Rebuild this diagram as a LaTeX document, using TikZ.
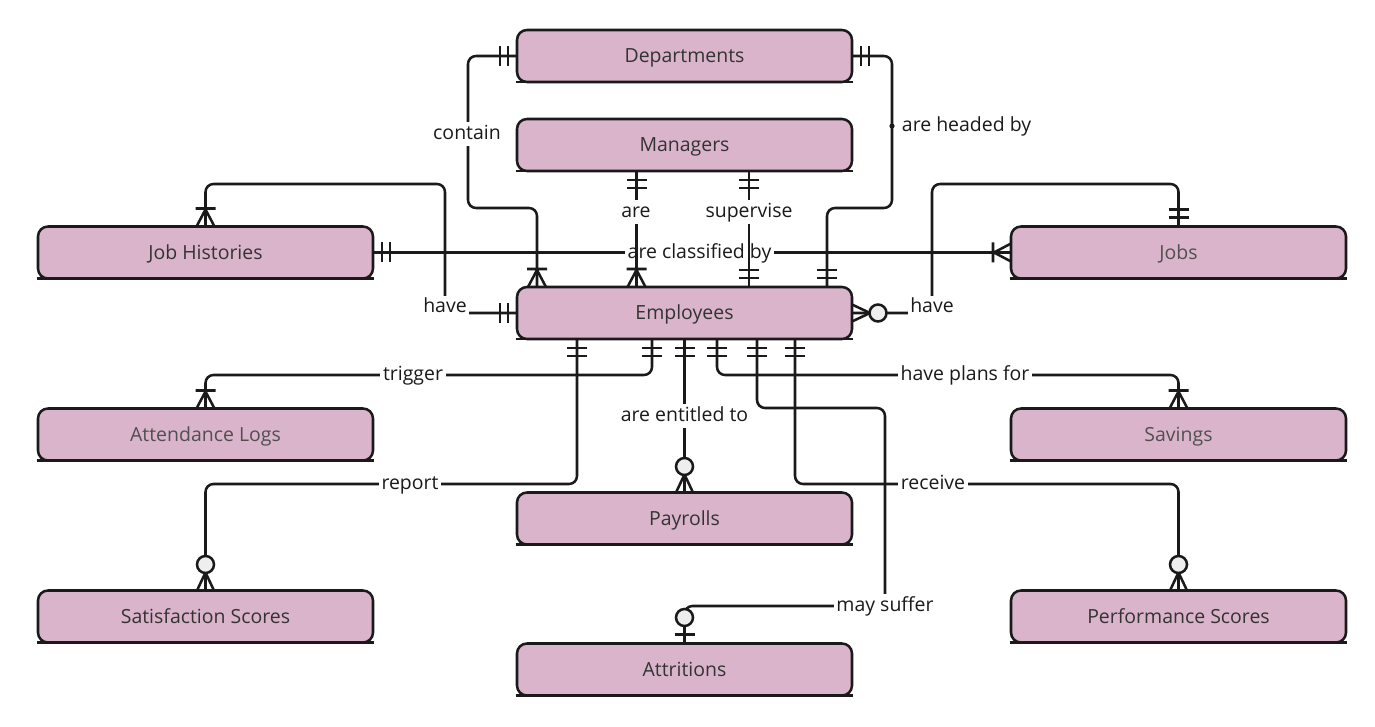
\documentclass[tikz,border=0pt]{standalone}
\usepackage{fontspec}
\setmainfont{Open Sans}
\usetikzlibrary{calc}
\definecolor{ent}{RGB}{218,180,203}
\definecolor{ink}{RGB}{26,26,26}
\definecolor{etext}{RGB}{51,51,51}
\definecolor{ltext}{RGB}{80,80,80}
\definecolor{ofill}{RGB}{238,238,238}
\newcommand\mkOne[2]{\begin{scope}[shift={(#1)},rotate=#2]\draw[mk](9,-10)--(9,10)(17,-10)--(17,10);\end{scope}}
\newcommand\mkMany[2]{\begin{scope}[shift={(#1)},rotate=#2]\draw[mk](0,9)--(17,0)--(0,-9)(18,-10)--(18,10);\end{scope}}
\newcommand\mkZM[2]{\begin{scope}[shift={(#1)},rotate=#2]\draw[mk](0,8.5)--(18,0)--(0,-8.5);\draw[mk,fill=ofill](26,0) circle[radius=8.5];\end{scope}}
\newcommand\mkZO[2]{\begin{scope}[shift={(#1)},rotate=#2]\draw[mk](9,-10)--(9,10);\draw[mk,fill=ofill](26,0) circle[radius=8.5];\end{scope}}
\tikzset{
 entity/.style={draw=ink, fill=ent, line width=1.9pt, rounded corners=7.5pt,
   minimum width=335*0.75pt, minimum height=52*0.75pt, outer sep=0pt, inner sep=0pt,
   text=etext, font=\fontsize{14.6}{17.5}\selectfont, text height=1.3em, text depth=0.26em},
 rel/.style={draw=ink, line width=1.9pt, rounded corners=6pt},
 mk/.style={draw=ink, line width=1.9pt},
 lbl/.style={fill=white, text=ink, inner sep=2pt, font=\fontsize{14.6}{17.5}\selectfont},
 clbl/.style={lbl, text height=1.15em, text depth=0.26em},
}
\begin{document}
\begin{tikzpicture}[x=0.75pt,y=-0.75pt]
\useasboundingbox (0,0) rectangle (1375,727);
% entities
\node[entity] (dep) at (684.5,56) {Departments};
\node[entity] (man) at (684.5,145) {Managers};
\node[entity] (jh) at (205.5,252.5) {Job Histories};
\node[entity,text=ltext] (jobs) at (1178.5,252.5) {Jobs};
\node[entity] (emp) at (684.5,313) {Employees};
\node[entity,text=ltext] (att) at (205.5,434.5) {Attendance Logs};
\node[entity,text=ltext] (sav) at (1178.5,434.5) {Savings};
\node[entity] (pay) at (684.5,518.5) {Payrolls};
\node[entity] (sat) at (205.5,616.5) {Satisfaction Scores};
\node[entity] (perf) at (1178.5,616.5) {Performance Scores};
\node[entity] (attr) at (684.5,669.5) {Attritions};
\foreach \n in {dep,man,jh,jobs,emp,att,sav,pay,sat,perf,attr}
  \draw[ink,line width=1.9pt] ([xshift=-1pt]\n.south west) -- ([xshift=1pt]\n.south east);
% attachment points
\coordinate (Ec) at ($(emp.north west)+(20,0)$);
\coordinate (Ea) at ($(emp.north west)+(119.5,0)$);
\coordinate (Es) at ($(emp.north west)+(232,0)$);
\coordinate (Eh) at ($(emp.north west)+(310,0)$);
\coordinate (Ma) at ($(man.south west)+(119.5,0)$);
\coordinate (Ms) at ($(man.south west)+(232,0)$);
\coordinate (Br) at ($(emp.south west)+(60,0)$);
\coordinate (Bt) at ($(emp.south west)+(135,0)$);
\coordinate (Bp) at ($(emp.south west)+(167.5,0)$);
\coordinate (Bl) at ($(emp.south west)+(200,0)$);
\coordinate (Bs) at ($(emp.south west)+(240,0)$);
\coordinate (Bv) at ($(emp.south west)+(278,0)$);
% are classified by
\draw[rel] (jh.east) -- (jobs.west);
\node[clbl] (lcls) at (699.5,253) {are classified by};
\mkOne{jh.east}{0}
\mkMany{jobs.west}{180}
% contain
\draw[rel] (dep.west) -| (468,208) -| (Ec);
\node[clbl] (lcon) at (467,134) {contain};
\mkOne{dep.west}{180}
\mkMany{Ec}{90}
% are headed by
\draw[rel] (dep.east) -| (892,208) -| (Eh);
\fill[ink] (892,126) circle[radius=2.6];
\node[clbl,fill=none,anchor=west] (lhead) at (899,126) {are headed by};
\mkOne{dep.east}{0}
\mkOne{Eh}{90}
% are
\draw[rel] (Ma) -- (Ea);
\node[clbl] (lare) at (636,212) {are};
\mkOne{Ma}{-90}
\mkMany{Ea}{90}
% supervise
\draw[rel] (Ms) -- (Es);
\node[clbl] (lsup) at (749,212) {supervise};
\mkOne{Ms}{-90}
\mkOne{Es}{90}
% have (job histories)
\draw[rel] (emp.west) -| (445,184) -| (jh.north);
\node[lbl,anchor=base] (lhv1) at (445,313) {have};
\mkOne{emp.west}{180}
\mkMany{jh.north}{90}
% have (jobs)
\draw[rel] (emp.east) -| (932,184) -| (jobs.north);
\node[lbl,anchor=base] (lhv2) at (932,313) {have};
\mkZM{emp.east}{0}
\mkOne{jobs.north}{90}
% trigger
\draw[rel] (Bt) |- (400,375) -| (att.north);
\node[clbl] (ltrg) at (413,375) {trigger};
\mkOne{Bt}{-90}
\mkMany{att.north}{90}
% report
\draw[rel] (Br) |- (400,484) -| (sat.north);
\node[clbl] (lrep) at (410,484) {report};
\mkOne{Br}{-90}
\mkZM{sat.north}{90}
% are entitled to
\draw[rel] (Bp) -- (pay.north);
\node[clbl] (lent) at (684.5,416) {are entitled to};
\mkOne{Bp}{-90}
\mkZM{pay.north}{90}
% have plans for
\draw[rel] (Bl) |- (900,375) -| (sav.north);
\node[clbl] (lpln) at (965,375) {have plans for};
\mkOne{Bl}{-90}
\mkMany{sav.north}{90}
% may suffer
\draw[rel] (Bs) |- (820,408) -| (885,606) -| (attr.north);
\node[clbl] (lsuf) at (885,606) {may suffer};
\mkOne{Bs}{-90}
\mkZO{attr.north}{90}
% receive
\draw[rel] (Bv) |- (1000,484) -| (perf.north);
\node[clbl] (lrec) at (933,484) {receive};
\mkOne{Bv}{-90}
\mkZM{perf.north}{90}
\end{tikzpicture}
\end{document}
